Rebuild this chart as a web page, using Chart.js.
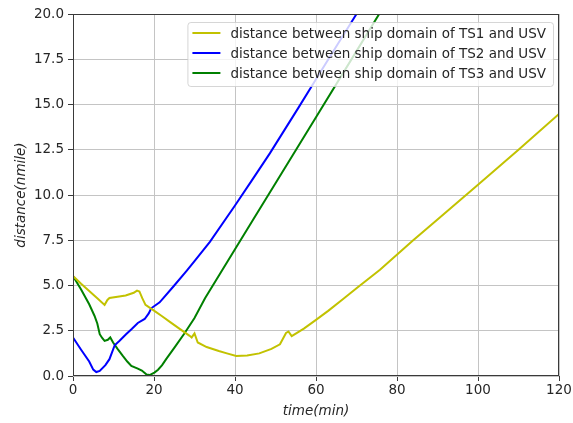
<!DOCTYPE html>
<html>
<head>
<meta charset="utf-8">
<script src="https://cdn.jsdelivr.net/npm/chart.js@4/dist/chart.umd.min.js"></script>
<style>
  html, body { margin: 0; padding: 0; background: #fff; }
  canvas { display: block; }
</style>
</head>
<body>
<canvas id="distChart" width="573" height="423"></canvas>
<script>
// time (min) / distance (nmile) samples for each target ship
const ts1Time = [0, 2, 4, 6, 7.8, 8.5, 9, 11, 13, 15, 15.8, 16.4, 17.1, 17.9, 20, 22, 24, 26, 28.8, 29.3, 30, 30.8,
  33, 36, 38, 40.3, 43, 46, 49, 51.1, 52.6, 53.2, 54, 57, 60, 63, 66.7, 70, 75.8, 84, 90, 100, 110, 120];
const ts1Dist = [5.52, 5.1, 4.7, 4.3, 3.93, 4.2, 4.31, 4.38, 4.45, 4.6, 4.72, 4.67, 4.3, 3.93, 3.61, 3.3, 2.98, 2.66, 2.22, 2.13, 2.35, 1.85,
  1.6, 1.38, 1.25, 1.11, 1.13, 1.25, 1.5, 1.75, 2.38, 2.46, 2.2, 2.62, 3.1, 3.6, 4.25, 4.85, 5.87, 7.5, 8.65, 10.56, 12.5, 14.48];

const ts2Time = [0, 2, 4, 5, 5.75, 6.6, 8, 9, 10.3, 11.5, 13.1, 14.5, 16, 17.7, 18.7, 19.3, 21.4, 22.3, 25, 28, 30,
  33.8, 40, 44, 48.6, 55.6, 60, 65, 70, 72];
const ts2Dist = [2.13, 1.45, 0.8, 0.35, 0.22, 0.28, 0.6, 0.93, 1.7, 1.95, 2.31, 2.6, 2.93, 3.15, 3.46, 3.74, 4.07, 4.3, 5.0, 5.8, 6.35,
  7.41, 9.42, 10.75, 12.3, 14.8, 16.4, 18.2, 20.0, 20.7];

const ts3Time = [0, 2, 4, 5.3, 6, 6.6, 7.2, 7.8, 8.6, 9.2, 9.9, 11, 12.3, 13.4, 14.4, 16, 17, 18.1, 18.9, 20.1, 21, 22, 23,
  25, 27.5, 30, 32.6, 40, 44.5, 50, 60, 70, 75.6, 77];
const ts3Dist = [5.52, 4.78, 3.96, 3.33, 2.9, 2.31, 2.1, 1.94, 2.0, 2.13, 1.85, 1.5, 1.11, 0.8, 0.56, 0.41, 0.3, 0.09, 0.05, 0.19, 0.35, 0.6, 0.93,
  1.55, 2.35, 3.2, 4.3, 7.0, 8.65, 10.65, 14.3, 17.95, 20.0, 20.5];

const seriesLabels = [
  'distance between ship domain of TS1 and USV',
  'distance between ship domain of TS2 and USV',
  'distance between ship domain of TS3 and USV'
];
const seriesColors = ['#c2c200', '#0000ff', '#008000'];

const xTicks = [0, 20, 40, 60, 80, 100, 120];
const yTicks = [0, 2.5, 5, 7.5, 10, 12.5, 15, 17.5, 20];

const FONT = 'DejaVu Sans';
const FONT_SIZE = 13.5;

function toPoints(ts, ds) {
  return ts.map((t, i) => ({ x: t, y: ds[i] }));
}

// frame round the plot area plus a boxed legend in the upper right corner
const frameAndLegend = {
  id: 'frameAndLegend',
  afterDatasetsDraw(chart) {
    const ctx = chart.ctx;
    const ca = chart.chartArea;
    ctx.save();
    ctx.strokeStyle = '#3a3a3a';
    ctx.lineWidth = 1;
    ctx.strokeRect(Math.round(ca.left) + 0.5, Math.round(ca.top) + 0.5,
      Math.round(ca.right - ca.left) - 1, Math.round(ca.bottom - ca.top) - 1);

    ctx.font = FONT_SIZE + 'px "' + FONT + '"';
    const sets = chart.data.datasets;
    const textW = Math.max(...sets.map(d => ctx.measureText(d.label).width));
    const rowH = 20;
    const w = 5 + 28 + 10 + textW + 7;
    const h = sets.length * rowH + 4;
    const x = ca.right - 6 - w;
    const y = ca.top + 8;

    ctx.beginPath();
    ctx.roundRect(x + 0.5, y + 0.5, w, h, 3);
    ctx.fillStyle = 'rgba(255,255,255,0.8)';
    ctx.fill();
    ctx.strokeStyle = 'rgba(204,204,204,0.8)';
    ctx.stroke();

    ctx.textBaseline = 'middle';
    ctx.fillStyle = '#262626';
    sets.forEach((d, i) => {
      const cy = y + 11 + i * rowH;
      ctx.beginPath();
      ctx.moveTo(x + 5, cy);
      ctx.lineTo(x + 33, cy);
      ctx.strokeStyle = d.borderColor;
      ctx.lineWidth = 2;
      ctx.stroke();
      ctx.fillText(d.label, x + 43, cy + 1);
    });
    ctx.restore();
  }
};

const ctx = document.getElementById('distChart').getContext('2d');
new Chart(ctx, {
  type: 'line',
  data: {
    datasets: [
      { label: seriesLabels[0], data: toPoints(ts1Time, ts1Dist), borderColor: seriesColors[0] },
      { label: seriesLabels[1], data: toPoints(ts2Time, ts2Dist), borderColor: seriesColors[1] },
      { label: seriesLabels[2], data: toPoints(ts3Time, ts3Dist), borderColor: seriesColors[2] }
    ]
  },
  options: {
    responsive: false,
    animation: false,
    layout: { padding: { left: 0, top: 14, right: 14, bottom: 0 } },
    elements: {
      line: { borderWidth: 2, tension: 0, fill: false },
      point: { radius: 0 }
    },
    plugins: {
      legend: { display: false },
      tooltip: { enabled: false }
    },
    scales: {
      x: {
        type: 'linear',
        min: 0,
        max: 120,
        afterBuildTicks: s => { s.ticks = xTicks.map(v => ({ value: v })); },
        afterFit: s => { s.height = 47; },
        grid: { color: '#c4c4c4', tickColor: '#3a3a3a', tickLength: 5 },
        border: { display: false },
        ticks: { color: '#262626', font: { family: FONT, size: FONT_SIZE }, padding: 1, maxRotation: 0 },
        title: {
          display: true,
          text: 'time(min)',
          color: '#262626',
          font: { family: FONT, size: FONT_SIZE, style: 'italic' },
          padding: { top: 0, bottom: 3 }
        }
      },
      y: {
        min: 0,
        max: 20,
        afterBuildTicks: s => { s.ticks = yTicks.map(v => ({ value: v })); },
        afterFit: s => { s.width = 73; },
        grid: { color: '#c4c4c4', tickColor: '#3a3a3a', tickLength: 5 },
        border: { display: false },
        ticks: {
          color: '#262626',
          font: { family: FONT, size: FONT_SIZE },
          padding: 4,
          callback: v => Number(v).toFixed(1)
        },
        title: {
          display: true,
          text: 'distance(nmile)',
          color: '#262626',
          font: { family: FONT, size: FONT_SIZE, style: 'italic' },
          padding: { top: 13, bottom: 0 }
        }
      }
    }
  },
  plugins: [frameAndLegend]
});
</script>
</body>
</html>
